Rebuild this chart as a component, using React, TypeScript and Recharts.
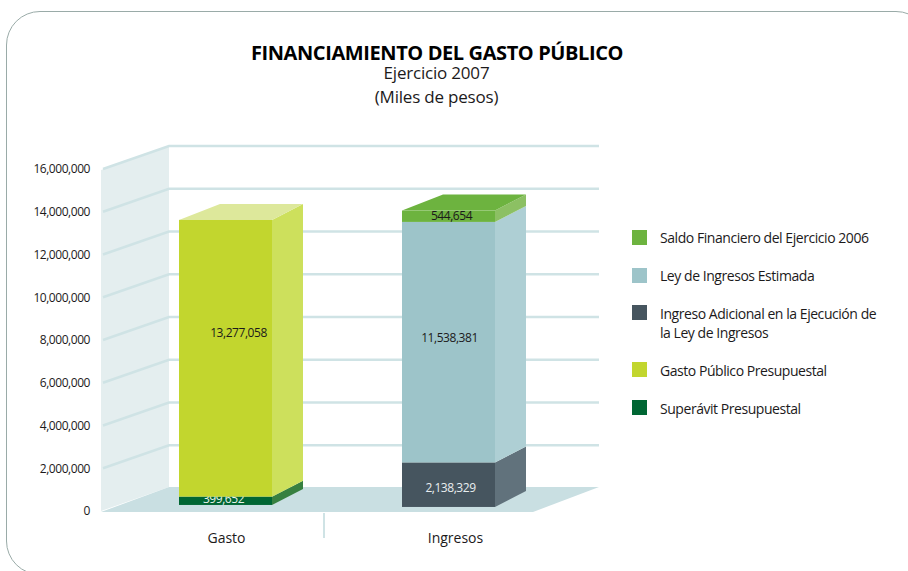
import { Bar, ComposedChart, Line, ReferenceArea, ReferenceLine, XAxis, YAxis } from "recharts";

const FONT = "'Open Sans', 'Noto Sans', sans-serif";
const INK = "#1c1a1b";
const GRID = "#cfe3e5";
const WALL = "#e4eeef";
const FLOOR = "#c9dfe2";

const categories = ["Gasto", "Ingresos"];
const superavit = [399652, null];
const gastoPublico = [13277058, null];
const ingresoAdicional = [null, 2138329];
const leyIngresos = [null, 11538381];
const saldoFinanciero = [null, 544654];
const yTicks = [0, 2000000, 4000000, 6000000, 8000000, 10000000, 12000000, 14000000, 16000000];

const legendLabels = [
  "Saldo Financiero del Ejercicio 2006",
  "Ley de Ingresos Estimada",
  "Ingreso Adicional en la Ejecución de la Ley de Ingresos",
  "Gasto Público Presupuestal",
  "Superávit Presupuestal",
];
const legendColors = ["#6db33f", "#9dc4c9", "#46555f", "#c2d62e", "#006633"];

const data = categories.map((name, i) => ({
  name,
  superavit: superavit[i],
  gastoPublico: gastoPublico[i],
  ingresoAdicional: ingresoAdicional[i],
  leyIngresos: leyIngresos[i],
  saldoFinanciero: saldoFinanciero[i],
}));

const fmt = (v: number) => v.toLocaleString("en-US");

// extruded box, the stack sits a bit off the floor line like in the original
function box(opts: {
  front: string;
  side: string;
  top?: string;
  labelColor?: string;
  labelDx?: number;
  labelDy?: number;
}) {
  return (props: any) => {
    const { x, y, width, height, value, index } = props;
    const v = Array.isArray(value) ? value[1] - value[0] : value;
    if (!v || !height) return <g />;
    const shift = index === 1 ? 2 : 0;
    const t = y + shift;
    const r = x + width;
    const b = t + height;
    return (
      <g>
        <rect x={x} y={t} width={width} height={height} fill={opts.front} />
        <polygon
          points={`${r},${t} ${r + 31},${t - 16} ${r + 31},${b - 16} ${r},${b}`}
          fill={opts.side}
        />
        {opts.top && (
          <polygon
            points={`${x},${t} ${x + 41},${t - 16} ${r + 31},${t - 16} ${r},${t}`}
            fill={opts.top}
          />
        )}
        <text
          x={x + width / 2 + (opts.labelDx ?? 0)}
          y={t + height / 2 + (opts.labelDy ?? 0)}
          textAnchor="middle"
          dominantBaseline="central"
          fontSize={12}
          letterSpacing={-0.45}
          fontFamily={FONT}
          fill={opts.labelColor ?? INK}
        >
          {fmt(v)}
        </text>
      </g>
    );
  };
}

// back wall, floor and the little divider under the axis
function Room(props: any) {
  const { x, y, height } = props;
  const bottom = y + height;
  return (
    <g>
      <polygon
        points={`${x - 13},${y + 1} ${x + 55},${y - 23} ${x + 55},${bottom - 24} ${x - 13},${bottom}`}
        fill={WALL}
      />
      <polygon
        points={`${x - 13},${bottom + 1} ${x + 55},${bottom - 24} ${x + 485},${bottom - 24} ${x + 419},${bottom + 1}`}
        fill={FLOOR}
      />
      <line x1={x + 210} x2={x + 210} y1={bottom + 2} y2={bottom + 27} stroke={GRID} strokeWidth={2} />
    </g>
  );
}

function WallLine(props: any) {
  const { x1, y1 } = props;
  return (
    <polyline
      points={`${x1 - 11},${y1} ${x1 + 55},${y1 - 23} ${x1 + 485},${y1 - 23}`}
      fill="none"
      stroke={GRID}
      strokeWidth={2.5}
    />
  );
}

function CategoryTick({ x, y, payload, index }: any) {
  return (
    <text
      x={x + (index === 1 ? 7 : 1)}
      y={y + 18}
      textAnchor="middle"
      dominantBaseline="central"
      fontSize={14}
      fontFamily={FONT}
      fill={INK}
    >
      {payload.value}
    </text>
  );
}

function ChartLegend() {
  const tops = [230, 268, 305, 362, 400];
  const textTops = [228, 266, 304, 361, 399];
  return (
    <>
      {legendLabels.map((label, i) => (
        <div key={label}>
          <div
            style={{
              position: "absolute",
              left: 632,
              top: tops[i],
              width: 15,
              height: 15,
              background: legendColors[i],
            }}
          />
          <div
            style={{
              position: "absolute",
              left: 660,
              top: textTops[i],
              width: 222,
              fontFamily: FONT,
              fontSize: 14,
              lineHeight: "19px",
              letterSpacing: -0.45,
              color: INK,
            }}
          >
            {label}
          </div>
        </div>
      ))}
    </>
  );
}

export default function App() {
  return (
    <div
      style={{
        position: "absolute",
        left: 0,
        top: 0,
        width: 908,
        height: 571,
        overflow: "hidden",
        background: "#fff",
      }}
    >
      <div
        style={{
          position: "absolute",
          left: 6,
          top: 11,
          width: 924,
          height: 564,
          boxSizing: "border-box",
          border: "1.5px solid #9aaba8",
          borderRadius: 34,
        }}
      />
      <div
        style={{
          position: "absolute",
          left: 0,
          width: 874,
          top: 40,
          textAlign: "center",
          fontFamily: FONT,
          fontWeight: 700,
          fontSize: 20,
          lineHeight: "26px",
          letterSpacing: -0.4,
          color: "#000",
        }}
      >
        FINANCIAMIENTO DEL GASTO PÚBLICO
      </div>
      <div
        style={{
          position: "absolute",
          left: 0,
          width: 873,
          top: 61,
          textAlign: "center",
          fontFamily: FONT,
          fontSize: 17,
          lineHeight: "24px",
          letterSpacing: -0.2,
          color: INK,
        }}
      >
        Ejercicio 2007
        <br />
        (Miles de pesos)
      </div>
      <div style={{ position: "absolute", left: 0, top: 0 }}>
        <ComposedChart
          width={908}
          height={571}
          data={data}
          barSize={93}
          margin={{ top: 169, right: 348, bottom: 0, left: 0 }}
        >
          <XAxis
            dataKey="name"
            height={60}
            axisLine={false}
            tickLine={false}
            tick={<CategoryTick />}
            interval={0}
          />
          <YAxis
            width={114}
            domain={[0, 16000000]}
            ticks={yTicks}
            interval={0}
            axisLine={false}
            tickLine={false}
            tickSize={0}
            tickMargin={24}
            tickFormatter={fmt}
            tick={{ fill: INK, fontSize: 12, fontFamily: FONT, letterSpacing: -0.45 }}
          />
          {/* bars stand inside the room, so they get their own inset scale */}
          <YAxis yAxisId="bars" hide domain={[-290000, 16120000]} />
          <ReferenceArea
            y1={0}
            y2={16000000}
            ifOverflow="visible"
            shape={<Room />}
            zIndex={-20}
          />
          {yTicks.slice(1).map((v) => (
            <ReferenceLine
              key={v}
              y={v}
              ifOverflow="visible"
              shape={<WallLine />}
              zIndex={-10}
            />
          ))}
          {/* the front axis needs a series bound to it or it does not draw */}
          <Line
            dataKey="gastoPublico"
            stroke="none"
            dot={false}
            activeDot={false}
            legendType="none"
            isAnimationActive={false}
          />
          <Bar
            yAxisId="bars"
            dataKey="superavit"
            stackId="a"
            isAnimationActive={false}
            shape={box({ front: "#006633", side: "#378040", labelColor: "#e8f2ea", labelDx: -2, labelDy: -2 })}
          />
          <Bar
            yAxisId="bars"
            dataKey="gastoPublico"
            stackId="a"
            isAnimationActive={false}
            shape={box({ front: "#c2d62e", side: "#cde05c", top: "#dde89b", labelDx: 13, labelDy: -26 })}
          />
          <Bar
            yAxisId="bars"
            dataKey="ingresoAdicional"
            stackId="a"
            isAnimationActive={false}
            shape={box({ front: "#46555f", side: "#61727c", labelColor: "#e9eef0", labelDx: 2, labelDy: 3 })}
          />
          <Bar
            yAxisId="bars"
            dataKey="leyIngresos"
            stackId="a"
            isAnimationActive={false}
            shape={box({ front: "#9dc4c9", side: "#aecfd4", labelDx: 1, labelDy: -5 })}
          />
          <Bar
            yAxisId="bars"
            dataKey="saldoFinanciero"
            stackId="a"
            isAnimationActive={false}
            shape={box({ front: "#6db33f", side: "#8cc063", top: "#6db33f", labelDx: 3, labelDy: -1 })}
          />
        </ComposedChart>
      </div>
      <ChartLegend />
    </div>
  );
}
